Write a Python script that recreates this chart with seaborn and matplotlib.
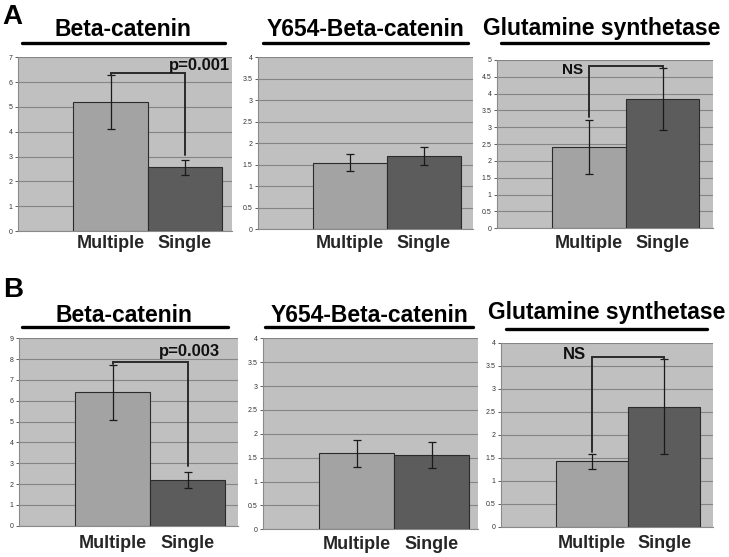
import numpy as np
import matplotlib
matplotlib.use("Agg")
import matplotlib.pyplot as plt
import seaborn as sns
import pandas as pd

sns.set_style("white")
plt.rcParams["font.family"] = ["Liberation Sans", "DejaVu Sans"]

# ---------------- data ----------------
categories = ["Multiple", "Single"]
panel_titles = ["Beta-catenin", "Y654-Beta-catenin", "Glutamine synthetase"]
row_labels = ["A", "B"]

A_beta_means = [5.19, 2.57]
A_beta_err = [1.09, 0.31]
A_y654_means = [1.55, 1.71]
A_y654_err = [0.20, 0.21]
A_gs_means = [2.41, 3.84]
A_gs_err = [0.80, 0.92]

B_beta_means = [6.41, 2.19]
B_beta_err = [1.33, 0.38]
B_y654_means = [1.59, 1.56]
B_y654_err = [0.28, 0.27]
B_gs_means = [1.42, 2.61]
B_gs_err = [0.165, 1.035]

y_max = [7, 4, 5, 9, 4, 4]
y_step = [1, 0.5, 0.5, 1, 0.5, 0.5]

# significance annotations: label, bracket height, left drop end, right drop end, text x, text y
sig_labels = ["p=0.001", None, "NS", "p=0.003", None, "NS"]
sig_bracket_y = [6.37, None, 4.82, 7.85, None, 3.70]
sig_left_end = [6.28, None, 3.32, 7.76, None, 1.62]
sig_right_end = [3.06, None, 4.75, 2.87, None, 3.64]
sig_text_x = [1.60, None, -0.08, 1.43, None, -0.08]
sig_text_y = [6.47, None, 4.59, 8.16, None, 3.64]

means = [A_beta_means, A_y654_means, A_gs_means, B_beta_means, B_y654_means, B_gs_means]
errs = [A_beta_err, A_y654_err, A_gs_err, B_beta_err, B_y654_err, B_gs_err]

# ---------------- layout (pixels) ----------------
W, H = 729, 557
fig = plt.figure(figsize=(W / 100, H / 100), dpi=100)

axes_px = [  # left, top, right, bottom
    (18, 57.3, 232, 231),
    (258, 57.3, 473, 229.3),
    (497, 60, 713, 228.3),
    (19, 338.3, 238, 525.7),
    (263, 338.3, 478, 529.3),
    (501, 342.7, 713, 526.7),
]
xlims = [(-1.242, 1.631), (-1.243, 1.662), (-1.252, 1.687),
         (-1.247, 1.673), (-1.247, 1.62), (-1.264, 1.68)]
label_caps_top = [239, 239, 238.5, 538.5, 539.3, 538.5]
title_pos = [(123, 36), (365, 36), (602, 35), (124, 321.7), (369, 321.7), (607, 319.3)]
underline_pos = [(22, 225, 43), (263, 468, 43), (501, 708, 43),
                 (22, 228, 327), (265, 473, 327), (506, 707, 329)]
letter_pos = [(2, 24), (3, 297)]

bg = "#c0c0c0"
bar_colors = ["#a3a3a3", "#5c5c5c"]
grid_c = "#858585"

def fx(px):
    return px / W

def fy(py):
    return 1 - py / H

for i in range(6):
    l, t, r, b = axes_px[i]
    ax = fig.add_axes([fx(l), fy(b), (r - l) / W, (b - t) / H])
    ax.set_facecolor(bg)
    df = pd.DataFrame({"group": categories, "value": means[i]})
    sns.barplot(data=df, x="group", y="value", hue="group", palette=bar_colors,
                width=1.0, edgecolor="#2b2b2b", linewidth=0.8, ax=ax,
                legend=False, errorbar=None, zorder=3)
    ax.errorbar([0, 1], means[i], yerr=errs[i], fmt="none", ecolor="#1a1a1a",
                elinewidth=0.9, capsize=2.8, capthick=0.9, zorder=4)
    ax.set_xlim(*xlims[i])
    ax.set_ylim(0, y_max[i])
    ticks = np.arange(0, y_max[i] + 1e-9, y_step[i])
    ax.set_yticks(ticks)
    ax.set_yticklabels([("%d" % v) if float(v).is_integer() else ("%g" % v) for v in ticks])
    ax.yaxis.grid(True, color=grid_c, linewidth=0.8, zorder=0)
    ax.set_axisbelow(True)
    ax.tick_params(axis="y", labelsize=5, colors="#444444", length=2.5, width=0.6,
                   pad=1.5, left=True)
    ax.tick_params(axis="y", labelcolor="#333333")
    pad_px = label_caps_top[i] - b - 3.6
    ax.tick_params(axis="x", length=0, pad=pad_px * 72 / 100, labelsize=13)
    for lab in ax.get_xticklabels():
        lab.set_fontweight("bold")
    ax.set_xlabel("")
    ax.set_ylabel("")
    for s in ["top", "right"]:
        ax.spines[s].set_visible(False)
    for s in ["left", "bottom"]:
        ax.spines[s].set_color("#8a8a8a")
        ax.spines[s].set_linewidth(0.8)

    # significance bracket
    if sig_labels[i] is not None:
        yb = sig_bracket_y[i]
        ax.plot([0, 0, 1, 1], [sig_left_end[i], yb, yb, sig_right_end[i]],
                color="#2a2a2a", linewidth=1.4, zorder=5, solid_joinstyle="miter")
        fs = 12 if sig_labels[i].startswith("p") else (11 if i < 3 else 12)
        ax.text(sig_text_x[i], sig_text_y[i], sig_labels[i], ha="right",
                va="baseline", fontsize=fs, fontweight="bold", color="#111111",
                zorder=6)

    # title and underline
    tx, ty = title_pos[i]
    fig.text(fx(tx), fy(ty), panel_titles[i % 3], ha="center", va="baseline",
             fontsize=16.5, fontweight="bold", color="black")
    ul, ur, uy = underline_pos[i]
    fig.add_artist(plt.Line2D([fx(ul), fx(ur)], [fy(uy), fy(uy)], color="black",
                              linewidth=2.4, transform=fig.transFigure))

for k, lab in enumerate(row_labels):
    lx, ly = letter_pos[k]
    fig.text(fx(lx), fy(ly), lab, ha="left", va="baseline", fontsize=20,
             fontweight="bold", color="black")

fig.savefig("out.png", dpi=100, facecolor="white")
